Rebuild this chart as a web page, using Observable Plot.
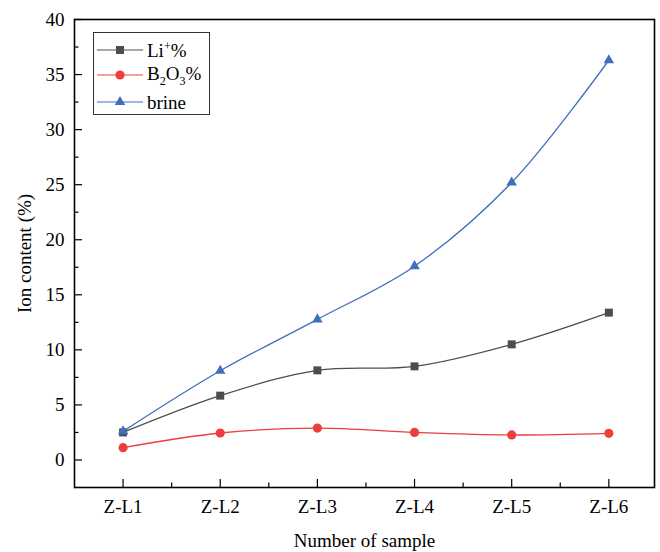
<!DOCTYPE html>
<html>
<head>
<meta charset="utf-8">
<script src="https://cdn.jsdelivr.net/npm/d3@7"></script>
<script src="https://cdn.jsdelivr.net/npm/@observablehq/plot@0.6"></script>
<style>
  html, body { margin: 0; padding: 0; background: #fff; }
  #wrap { position: relative; width: 660px; height: 552px; font-family: "Liberation Serif", "Times New Roman", serif; }
  #legend { position: absolute; left: 93px; top: 32px; width: 117px; height: 83px; border: 1px solid #333; background: #fff; box-sizing: border-box; }
  .row { position: absolute; left: 0; height: 24px; display: flex; align-items: center; }
  .row svg { display: block; }
  .lab { font-size: 19px; color: #000; margin-left: 3px; line-height: 1; }
  sup, sub { font-size: 12px; }
</style>
</head>
<body>
<div id="wrap"></div>
<script>
const samples = ["Z-L1", "Z-L2", "Z-L3", "Z-L4", "Z-L5", "Z-L6"];
const li = [2.5, 5.84, 8.14, 8.5, 10.5, 13.38];
const b2o3 = [1.12, 2.45, 2.9, 2.5, 2.27, 2.42];
const brine = [2.6, 8.1, 12.77, 17.6, 25.2, 36.3];
const yTicks = [0, 5, 10, 15, 20, 25, 30, 35, 40];
const yMinor = [2.5, 7.5, 12.5, 17.5, 22.5, 27.5, 32.5, 37.5];
const xMinor = [0.5, 1.5, 2.5, 3.5, 4.5];

const colLi = "#4d4d4d", colB = "#ee3d3d", colBr = "#3f6fbd";
const mk = arr => arr.map((v, i) => ({i, v}));
const dLi = mk(li), dB = mk(b2o3), dBr = mk(brine);

const chart = Plot.plot({
  width: 660, height: 552,
  marginLeft: 74, marginRight: 6, marginTop: 19, marginBottom: 65,
  style: {fontFamily: "'Liberation Serif', 'Times New Roman', serif", fontSize: "19px", color: "#000", background: "#fff"},
  x: {type: "linear", domain: [-0.5, 5.47], axis: null},
  y: {type: "linear", domain: [-2.5, 40], axis: null},
  marks: [
    Plot.axisY({ticks: yTicks, tickSize: -8, text: null, stroke: "#000", strokeWidth: 1.2, label: null}),
    Plot.axisY({ticks: yMinor, tickSize: -4.5, text: null, stroke: "#000", strokeWidth: 1.2, label: null}),
    Plot.axisY({ticks: yTicks, tickSize: 0, tickPadding: 10, tickFormat: d => String(d), label: null, fontSize: 19, fill: "#000"}),
    Plot.axisX({ticks: [0,1,2,3,4,5], tickSize: -8, text: null, stroke: "#000", strokeWidth: 1.2, label: null}),
    Plot.axisX({ticks: xMinor, tickSize: -4.5, text: null, stroke: "#000", strokeWidth: 1.2, label: null}),
    Plot.axisX({ticks: [0,1,2,3,4,5], tickSize: 0, tickPadding: 12, tickFormat: i => samples[i], label: null, fontSize: 19, fill: "#000"}),
    Plot.frame({stroke: "#000", strokeWidth: 1.6}),
    Plot.text(["Number of sample"], {frameAnchor: "bottom", dy: 53, lineAnchor: "middle", textAnchor: "middle", fontSize: 19, fill: "#000"}),
    Plot.text(["Ion content (%)"], {frameAnchor: "left", dx: -50, rotate: -90, textAnchor: "middle", lineAnchor: "middle", fontSize: 19, fill: "#000"}),
    Plot.line(dLi, {x: "i", y: "v", stroke: colLi, strokeWidth: 1.3, curve: "catmull-rom"}),
    Plot.line(dB, {x: "i", y: "v", stroke: colB, strokeWidth: 1.3, curve: "catmull-rom"}),
    Plot.line(dBr, {x: "i", y: "v", stroke: colBr, strokeWidth: 1.3, curve: "catmull-rom"}),
    Plot.dot(dLi, {x: "i", y: "v", symbol: "square", r: 4.5, fill: colLi, stroke: "none"}),
    Plot.dot(dB, {x: "i", y: "v", symbol: "circle", r: 4.6, fill: colB, stroke: "none"}),
    Plot.dot(dBr, {x: "i", y: "v", symbol: "triangle", r: 3.9, fill: colBr, stroke: "none"})
  ]
});

const wrap = document.getElementById("wrap");
wrap.appendChild(chart);

const legendItems = [
  {html: "Li<sup>+</sup>%", color: colLi, symbol: d3.symbolSquare, r: 4.5, top: 5},
  {html: "B<sub>2</sub>O<sub>3</sub>%", color: colB, symbol: d3.symbolCircle, r: 4.6, top: 30},
  {html: "brine", color: colBr, symbol: d3.symbolTriangle, r: 3.9, top: 57}
];
const lineCols = {[colLi]: "#8a8a8a", [colB]: "#f08080", [colBr]: "#7f9fd6"};
const leg = document.createElement("div");
leg.id = "legend";
for (const it of legendItems) {
  const row = document.createElement("div");
  row.className = "row";
  row.style.top = it.top + "px";
  const s = d3.create("svg").attr("width", 50).attr("height", 24);
  s.append("line").attr("x1", 3).attr("x2", 49).attr("y1", 12).attr("y2", 12)
    .attr("stroke", lineCols[it.color]).attr("stroke-width", 1.3);
  s.append("path").attr("d", d3.symbol(it.symbol, Math.PI * it.r * it.r)())
    .attr("transform", "translate(26,12)").attr("fill", it.color);
  row.appendChild(s.node());
  const lab = document.createElement("span");
  lab.className = "lab";
  lab.innerHTML = it.html;
  row.appendChild(lab);
  leg.appendChild(row);
}
wrap.appendChild(leg);
</script>
</body>
</html>
